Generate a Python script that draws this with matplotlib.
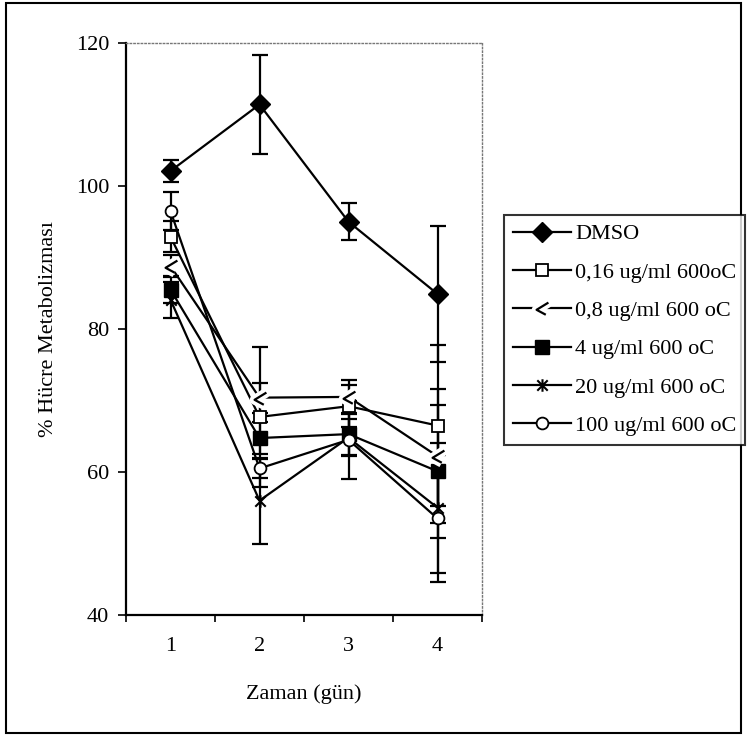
import matplotlib
matplotlib.use("Agg")
import matplotlib.pyplot as plt
from matplotlib.path import Path
from matplotlib.patches import Rectangle
from matplotlib.legend_handler import HandlerTuple

plt.rcParams['font.family'] = ['Liberation Serif', 'DejaVu Serif']

days = [1, 2, 3, 4]
day_labels = ["1", "2", "3", "4"]

series_names = ["DMSO", "0,16 ug/ml 600oC", "0,8 ug/ml 600 oC",
                "4 ug/ml 600 oC", "20 ug/ml 600 oC", "100 ug/ml 600 oC"]

dmso = [102.1, 111.4, 95.0, 84.9]
dmso_err = [1.6, 6.9, 2.6, 9.5]
c016 = [92.9, 67.7, 69.2, 66.5]
c016_err = [2.2, 9.8, 2.9, 11.3]
c08 = [88.8, 70.4, 70.5, 62.2]
c08_err = [1.5, 2.1, 2.4, 9.4]
c4 = [85.5, 64.75, 65.3, 60.1]
c4_err = [1.9, 2.3, 2.9, 9.3]
c20 = [84.1, 56.0, 64.8, 55.0]
c20_err = [2.5, 6.0, 2.6, 9.1]
c100 = [96.5, 60.5, 64.5, 53.5]
c100_err = [2.6, 1.3, 5.5, 8.9]

# custom glyphs
hook = Path([(0.9, 0.9), (-0.9, -0.2), (0.5, -0.95)],
            [Path.MOVETO, Path.LINETO, Path.LINETO])
star = Path([(-1, -1), (1, 1), (-1, 1), (1, -1), (0, -1.2), (0, 1.2)],
            [Path.MOVETO, Path.LINETO, Path.MOVETO, Path.LINETO,
             Path.MOVETO, Path.LINETO])

W, H = 747, 739
fig = plt.figure(figsize=(W / 100, H / 100), dpi=100)
ax = fig.add_axes([126 / W, (H - 615) / H, (482 - 126) / W, (615 - 43) / H])

FS = 16
lw = 1.6
cap = 6

specs = [
    (dmso, dmso_err, dict(marker='D', ms=10, mfc='black', mec='black')),
    (c016, c016_err, dict(marker='s', ms=8.5, mfc='white', mec='black', mew=1.3)),
    (c08, c08_err, None),
    (c4, c4_err, dict(marker='s', ms=9.5, mfc='black', mec='black')),
    (c20, c20_err, dict(marker=star, ms=9, mfc='none', mec='black', mew=1.5)),
    (c100, c100_err, dict(marker='o', ms=8.5, mfc='white', mec='black', mew=1.3)),
]

handles = []
for vals, errs, mk in specs:
    ax.errorbar(days, vals, yerr=errs, fmt='none', ecolor='black',
                elinewidth=lw, capsize=cap, capthick=lw, zorder=2)
    if mk is None:
        ln, = ax.plot(days, vals, color='black', lw=lw, zorder=3)
        halo, = ax.plot(days, vals, ls='none', marker=hook, ms=9,
                        mec='white', mfc='none', mew=7, zorder=4)
        glyph, = ax.plot(days, vals, ls='none', marker=hook, ms=9,
                         mec='black', mfc='none', mew=1.6, zorder=5)
        handles.append((ln, halo, glyph))
    else:
        ln, = ax.plot(days, vals, color='black', lw=lw, zorder=3, **mk)
        handles.append(ln)

ax.set_xlim(0.5, 4.5)
ax.set_ylim(40, 120)
ax.set_yticks([40, 60, 80, 100, 120])
ax.set_xticks(days)
ax.set_xticklabels(day_labels)
ax.set_xticks([0.5, 1.5, 2.5, 3.5, 4.5], minor=True)
ax.tick_params(axis='x', which='major', length=0, pad=16, labelsize=FS)
ax.tick_params(axis='x', which='minor', length=5, width=1.2, direction='out')
ax.tick_params(axis='y', length=6, width=1.2, direction='out', pad=6,
               labelsize=FS)

for side in ('left', 'bottom'):
    ax.spines[side].set_linewidth(1.6)
    ax.spines[side].set_color('black')
for side in ('top', 'right'):
    ax.spines[side].set_linewidth(1.0)
    ax.spines[side].set_color('#777777')
    ax.spines[side].set_linestyle(':')

ax.set_xlabel("Zaman (gün)", fontsize=FS, labelpad=20)
ax.set_ylabel("% Hücre Metabolizması", fontsize=FS, labelpad=13)

leg = fig.legend(handles, series_names, loc='center left',
                 bbox_to_anchor=(504 / W, 1 - 330 / H),
                 bbox_transform=fig.transFigure,
                 fontsize=FS, frameon=True, fancybox=False, shadow=False,
                 handlelength=2.6, handletextpad=0.2, borderpad=0.4,
                 labelspacing=0.8, borderaxespad=0,
                 handler_map={tuple: HandlerTuple(ndivide=1, pad=0)})
leg.get_frame().set_edgecolor('black')
leg.get_frame().set_linewidth(1.5)

fig.patches.append(Rectangle((6 / W, 1 - 733 / H), (741 - 6) / W, (733 - 3) / H,
                             transform=fig.transFigure, fill=False,
                             edgecolor='black', linewidth=1.5))

fig.savefig("out.png", dpi=100)
